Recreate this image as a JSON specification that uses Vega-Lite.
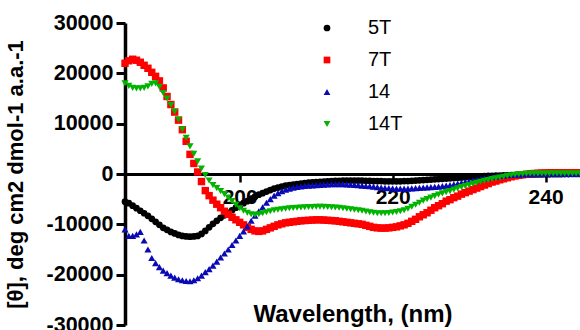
{
"$schema":"https://vega.github.io/schema/vega-lite/v6.json",
"width":455,"height":302,
"autosize":"none",
"padding":{"left":125,"top":23,"right":0,"bottom":5},
"background":"white",
"config":{"view":{"stroke":null},"font":"Liberation Sans"},
"data":{"values":[
{"wl":185,"5T":-5500,"7T":22000,"14":-11000,"14T":18000},
{"wl":185.5,"5T":-5800,"7T":22500,"14":-12300,"14T":17500},
{"wl":186,"5T":-6300,"7T":22800,"14":-12300,"14T":17100},
{"wl":186.5,"5T":-6800,"7T":22600,"14":-12000,"14T":17000},
{"wl":187,"5T":-7300,"7T":22200,"14":-11500,"14T":17000},
{"wl":187.5,"5T":-7800,"7T":21600,"14":-13200,"14T":17100},
{"wl":188,"5T":-8300,"7T":21000,"14":-15000,"14T":17400},
{"wl":188.5,"5T":-8900,"7T":20200,"14":-16700,"14T":17900},
{"wl":189,"5T":-9500,"7T":19400,"14":-17700,"14T":18000},
{"wl":189.5,"5T":-10100,"7T":18500,"14":-18500,"14T":17300},
{"wl":190,"5T":-10700,"7T":17100,"14":-19200,"14T":16100},
{"wl":190.5,"5T":-11100,"7T":15400,"14":-19700,"14T":15000},
{"wl":191,"5T":-11500,"7T":13800,"14":-20200,"14T":13700},
{"wl":191.5,"5T":-11800,"7T":12300,"14":-20600,"14T":12400},
{"wl":192,"5T":-12100,"7T":10700,"14":-20900,"14T":10800},
{"wl":192.5,"5T":-12300,"7T":8800,"14":-21100,"14T":8900},
{"wl":193,"5T":-12400,"7T":6500,"14":-21250,"14T":7200},
{"wl":193.5,"5T":-12450,"7T":3900,"14":-21300,"14T":5500},
{"wl":194,"5T":-12400,"7T":2100,"14":-21100,"14T":4000},
{"wl":194.5,"5T":-12300,"7T":400,"14":-20700,"14T":2500},
{"wl":195,"5T":-11900,"7T":-1500,"14":-20200,"14T":1100},
{"wl":195.5,"5T":-11300,"7T":-3300,"14":-19500,"14T":-200},
{"wl":196,"5T":-10600,"7T":-4300,"14":-18900,"14T":-1300},
{"wl":196.5,"5T":-9900,"7T":-5200,"14":-18200,"14T":-2200},
{"wl":197,"5T":-9300,"7T":-6000,"14":-17400,"14T":-2800},
{"wl":197.5,"5T":-8700,"7T":-6700,"14":-16600,"14T":-3400},
{"wl":198,"5T":-8200,"7T":-7400,"14":-15800,"14T":-4000},
{"wl":198.5,"5T":-7700,"7T":-8000,"14":-15000,"14T":-4700},
{"wl":199,"5T":-7200,"7T":-8600,"14":-14100,"14T":-5400},
{"wl":199.5,"5T":-6700,"7T":-9100,"14":-13200,"14T":-6100},
{"wl":200,"5T":-6300,"7T":-9600,"14":-12300,"14T":-6800},
{"wl":200.5,"5T":-5800,"7T":-10100,"14":-11400,"14T":-7300},
{"wl":201,"5T":-5400,"7T":-10600,"14":-10400,"14T":-7700},
{"wl":201.5,"5T":-4900,"7T":-11000,"14":-9300,"14T":-8000},
{"wl":202,"5T":-4500,"7T":-11300,"14":-8300,"14T":-8100},
{"wl":202.5,"5T":-4100,"7T":-11400,"14":-7400,"14T":-8000},
{"wl":203,"5T":-3800,"7T":-11300,"14":-6600,"14T":-7800},
{"wl":203.5,"5T":-3500,"7T":-11000,"14":-5700,"14T":-7600},
{"wl":204,"5T":-3200,"7T":-10700,"14":-5000,"14T":-7400},
{"wl":204.5,"5T":-2900,"7T":-10400,"14":-4300,"14T":-7200},
{"wl":205,"5T":-2700,"7T":-10100,"14":-3800,"14T":-7100},
{"wl":205.5,"5T":-2500,"7T":-9900,"14":-3400,"14T":-7000},
{"wl":206,"5T":-2300,"7T":-9700,"14":-3100,"14T":-6900},
{"wl":206.5,"5T":-2200,"7T":-9600,"14":-2900,"14T":-6800},
{"wl":207,"5T":-2100,"7T":-9500,"14":-2700,"14T":-6750},
{"wl":207.5,"5T":-2000,"7T":-9400,"14":-2550,"14T":-6700},
{"wl":208,"5T":-1900,"7T":-9300,"14":-2450,"14T":-6650},
{"wl":208.5,"5T":-1800,"7T":-9250,"14":-2350,"14T":-6600},
{"wl":209,"5T":-1700,"7T":-9200,"14":-2300,"14T":-6550},
{"wl":209.5,"5T":-1650,"7T":-9150,"14":-2250,"14T":-6550},
{"wl":210,"5T":-1600,"7T":-9100,"14":-2200,"14T":-6500},
{"wl":210.5,"5T":-1550,"7T":-9100,"14":-2150,"14T":-6500},
{"wl":211,"5T":-1500,"7T":-9150,"14":-2100,"14T":-6500},
{"wl":211.5,"5T":-1450,"7T":-9200,"14":-2050,"14T":-6550},
{"wl":212,"5T":-1400,"7T":-9250,"14":-2000,"14T":-6600},
{"wl":212.5,"5T":-1350,"7T":-9300,"14":-2000,"14T":-6650},
{"wl":213,"5T":-1350,"7T":-9400,"14":-2000,"14T":-6700},
{"wl":213.5,"5T":-1300,"7T":-9500,"14":-2000,"14T":-6800},
{"wl":214,"5T":-1300,"7T":-9600,"14":-2050,"14T":-6900},
{"wl":214.5,"5T":-1300,"7T":-9700,"14":-2100,"14T":-7000},
{"wl":215,"5T":-1300,"7T":-9800,"14":-2150,"14T":-7100},
{"wl":215.5,"5T":-1300,"7T":-9900,"14":-2200,"14T":-7200},
{"wl":216,"5T":-1300,"7T":-10000,"14":-2300,"14T":-7300},
{"wl":216.5,"5T":-1350,"7T":-10200,"14":-2350,"14T":-7450},
{"wl":217,"5T":-1350,"7T":-10400,"14":-2400,"14T":-7600},
{"wl":217.5,"5T":-1400,"7T":-10600,"14":-2500,"14T":-7700},
{"wl":218,"5T":-1400,"7T":-10700,"14":-2600,"14T":-7800},
{"wl":218.5,"5T":-1400,"7T":-10750,"14":-2700,"14T":-7800},
{"wl":219,"5T":-1450,"7T":-10750,"14":-2750,"14T":-7800},
{"wl":219.5,"5T":-1450,"7T":-10700,"14":-2800,"14T":-7750},
{"wl":220,"5T":-1450,"7T":-10600,"14":-2850,"14T":-7650},
{"wl":220.5,"5T":-1450,"7T":-10500,"14":-2900,"14T":-7550},
{"wl":221,"5T":-1450,"7T":-10300,"14":-2900,"14T":-7400},
{"wl":221.5,"5T":-1400,"7T":-10100,"14":-2900,"14T":-7200},
{"wl":222,"5T":-1400,"7T":-9800,"14":-2900,"14T":-6900},
{"wl":222.5,"5T":-1350,"7T":-9400,"14":-2850,"14T":-6500},
{"wl":223,"5T":-1300,"7T":-9000,"14":-2800,"14T":-6100},
{"wl":223.5,"5T":-1250,"7T":-8500,"14":-2750,"14T":-5700},
{"wl":224,"5T":-1200,"7T":-8100,"14":-2700,"14T":-5300},
{"wl":224.5,"5T":-1150,"7T":-7700,"14":-2650,"14T":-5000},
{"wl":225,"5T":-1100,"7T":-7200,"14":-2600,"14T":-4700},
{"wl":225.5,"5T":-1050,"7T":-6700,"14":-2550,"14T":-4400},
{"wl":226,"5T":-1000,"7T":-6300,"14":-2500,"14T":-4100},
{"wl":226.5,"5T":-950,"7T":-5900,"14":-2400,"14T":-3850},
{"wl":227,"5T":-900,"7T":-5400,"14":-2300,"14T":-3600},
{"wl":227.5,"5T":-850,"7T":-5100,"14":-2200,"14T":-3400},
{"wl":228,"5T":-800,"7T":-4700,"14":-2050,"14T":-3100},
{"wl":228.5,"5T":-750,"7T":-4400,"14":-1900,"14T":-2850},
{"wl":229,"5T":-700,"7T":-4000,"14":-1750,"14T":-2600},
{"wl":229.5,"5T":-650,"7T":-3700,"14":-1600,"14T":-2400},
{"wl":230,"5T":-600,"7T":-3400,"14":-1450,"14T":-2200},
{"wl":230.5,"5T":-550,"7T":-3100,"14":-1300,"14T":-1950},
{"wl":231,"5T":-500,"7T":-2800,"14":-1150,"14T":-1750},
{"wl":231.5,"5T":-450,"7T":-2500,"14":-1000,"14T":-1550},
{"wl":232,"5T":-400,"7T":-2200,"14":-850,"14T":-1350},
{"wl":232.5,"5T":-380,"7T":-1900,"14":-700,"14T":-1200},
{"wl":233,"5T":-350,"7T":-1600,"14":-600,"14T":-1000},
{"wl":233.5,"5T":-320,"7T":-1400,"14":-500,"14T":-850},
{"wl":234,"5T":-300,"7T":-1150,"14":-400,"14T":-700},
{"wl":234.5,"5T":-280,"7T":-950,"14":-300,"14T":-550},
{"wl":235,"5T":-250,"7T":-750,"14":-250,"14T":-400},
{"wl":235.5,"5T":-230,"7T":-550,"14":-200,"14T":-250},
{"wl":236,"5T":-200,"7T":-400,"14":-150,"14T":-150},
{"wl":236.5,"5T":-180,"7T":-250,"14":-100,"14T":-50},
{"wl":237,"5T":-160,"7T":-150,"14":-80,"14T":0},
{"wl":237.5,"5T":-140,"7T":-50,"14":-60,"14T":50},
{"wl":238,"5T":-120,"7T":50,"14":-40,"14T":80},
{"wl":238.5,"5T":-100,"7T":100,"14":-20,"14T":100},
{"wl":239,"5T":-90,"7T":150,"14":0,"14T":100},
{"wl":239.5,"5T":-80,"7T":200,"14":0,"14T":100},
{"wl":240,"5T":-70,"7T":200,"14":0,"14T":100},
{"wl":240.5,"5T":-60,"7T":250,"14":0,"14T":100},
{"wl":241,"5T":-50,"7T":250,"14":0,"14T":100},
{"wl":241.5,"5T":-40,"7T":250,"14":0,"14T":100},
{"wl":242,"5T":-30,"7T":250,"14":0,"14T":100},
{"wl":242.5,"5T":-20,"7T":250,"14":0,"14T":100},
{"wl":243,"5T":-10,"7T":250,"14":0,"14T":100},
{"wl":243.5,"5T":0,"7T":250,"14":0,"14T":100},
{"wl":244,"5T":0,"7T":250,"14":0,"14T":100},
{"wl":244.5,"5T":0,"7T":250,"14":0,"14T":100}
]},
"transform":[{"fold":["5T","7T","14","14T"],"as":["series","value"]}],
"encoding":{
 "x":{"field":"wl","type":"quantitative","scale":{"domain":[185,244.5],"nice":false,"zero":false},
  "axis":{"offset":-151,"values":[200,220,240],"labelExpr":"datum.value + ''","grid":false,
   "domainColor":"black","domainWidth":3,"tickColor":"black","tickWidth":2.5,"tickSize":8,
   "labelFont":"Liberation Sans","labelFontSize":21,"labelFontWeight":"bold","labelColor":"black","labelPadding":4,"labelFlush":false,
   "title":"Wavelength, (nm)","titleFont":"Liberation Sans","titleFontSize":24,"titleFontWeight":"bold","titleColor":"black",
   "titleX":227.5,"titleY":147,"titleBaseline":"alphabetic","titleAlign":"center"}},
 "y":{"field":"value","type":"quantitative","scale":{"domain":[-30000,30000],"nice":false},
  "axis":{"values":[-30000,-20000,-10000,0,10000,20000,30000],"labelExpr":"datum.value + ''","grid":false,
   "domainColor":"black","domainWidth":3.5,"tickColor":"black","tickWidth":3,"tickSize":9,
   "labelFont":"Liberation Sans","labelFontSize":21.5,"labelFontWeight":"bold","labelColor":"black","labelPadding":3,"labelOverlap":false,"labelBound":false,
   "title":"[θ], deg cm2 dmol-1 a.a.-1","titleFont":"Liberation Sans","titleFontSize":22,"titleFontWeight":"bold","titleColor":"black","titlePadding":19}},
 "color":{"field":"series","type":"nominal","scale":{"domain":["5T","7T","14","14T"],"range":["#000000","#FF0000","#0A0AB4","#00B400"]},
  "legend":{"title":null,"orient":"none","legendX":192,"legendY":-5,"symbolSize":45,"labelFont":"Liberation Sans","labelFontSize":20,"labelColor":"black","labelOffset":31,"rowPadding":12,"padding":0,"symbolStrokeWidth":0}},
 "shape":{"field":"series","type":"nominal","scale":{"domain":["5T","7T","14","14T"],"range":["circle","square","triangle-up","triangle-down"]}}
},
"layer":[
 {"transform":[{"filter":"datum.series === '5T'"}],"mark":{"type":"point","filled":true,"opacity":1,"size":45,"strokeWidth":0}},
 {"transform":[{"filter":"datum.series === '7T'"}],"mark":{"type":"point","filled":true,"opacity":1,"size":55,"strokeWidth":0}},
 {"transform":[{"filter":"datum.series === '14'"}],"mark":{"type":"point","filled":true,"opacity":1,"size":50,"strokeWidth":0}},
 {"transform":[{"filter":"datum.series === '14T'"}],"mark":{"type":"point","filled":true,"opacity":1,"size":50,"strokeWidth":0}}
]
}
